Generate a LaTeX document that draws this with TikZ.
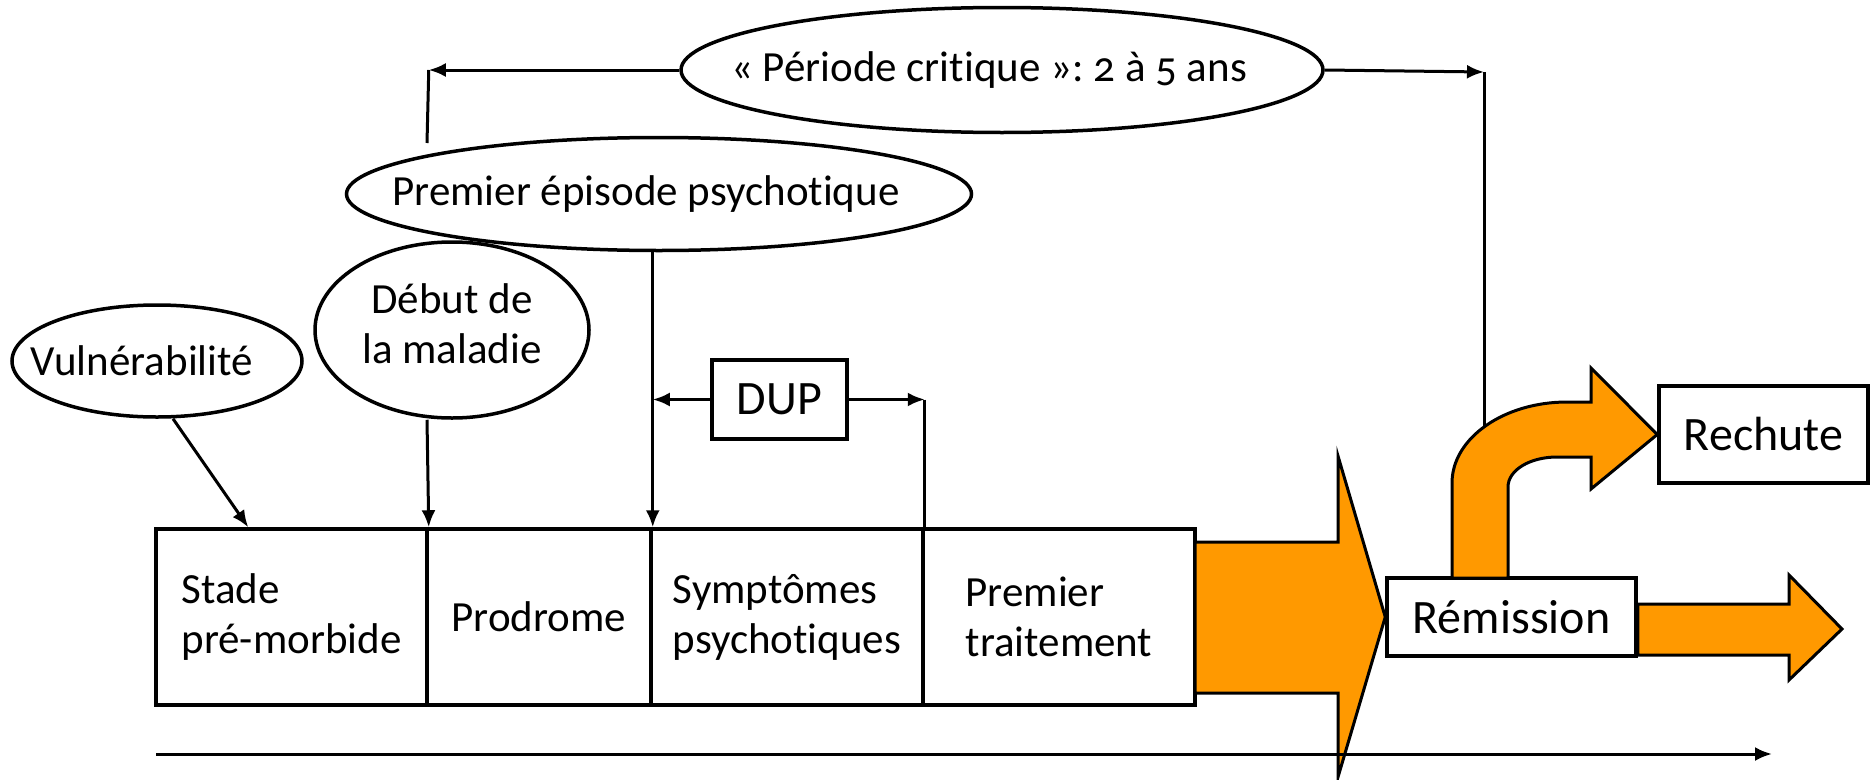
\documentclass[tikz,border=0pt]{standalone}
\usepackage{fontspec}
\setmainfont{Carlito}[Ligatures=NoCommon]
\usetikzlibrary{shapes.geometric,arrows.meta}
\frenchspacing

\definecolor{orangeflux}{RGB}{255,153,0}

% texte sans largeur, decale de #1 dans sa bulle
\newcommand{\txtdecal}[2]{\makebox[0pt]{\kern#1#2}}

\begin{document}
\begin{tikzpicture}[x=1pt, y=-1pt,
  bulle/.style={ellipse, draw, line width=3.5pt, inner sep=0pt, font=\fontsize{43}{50}\selectfont},
  etape/.style={rectangle, draw, line width=3.5pt, minimum height=176pt, inner sep=0pt, align=left, font=\fontsize{43}{50}\selectfont},
  cadre/.style={rectangle, draw, line width=3.5pt, inner sep=0pt, font=\fontsize{48}{56}\selectfont},
  fleche/.style={line width=3pt, -{Latex[length=17pt, width=14pt]}},
  lien/.style={line width=3pt},
  flux/.style={draw, fill=orangeflux, line width=3pt, line join=miter}]

\useasboundingbox (0,0) rectangle (1870,779);

% les bulles
\node[bulle, minimum width=642pt, minimum height=125pt] (crit) at (1002,70)
  {\txtdecal{-26pt}{\addfontfeature{Numbers=OldStyle}« Période critique »: 2 à 5 ans}};
\node[bulle, minimum width=625pt, minimum height=113pt] (pep) at (659,194)
  {\txtdecal{-26pt}{Premier épisode psychotique}};
\node[bulle, minimum width=274pt, minimum height=176pt] (debut) at (452,330)
  {\txtdecal{0pt}{\raisebox{-33pt}[0pt][0pt]{\begin{tabular}[b]{@{}c@{}}Début de\\la maladie\end{tabular}}}};
\node[bulle, minimum width=290pt, minimum height=112pt] (vuln) at (157,361)
  {\txtdecal{-30pt}{Vulnérabilité}};

% les etapes
\node[etape, minimum width=271pt] (stade) at (291.5,617) {Stade\\pré-morbide};
\node[etape, minimum width=224pt] (prod) at (539,617) {Prodrome};
\node[etape, minimum width=272pt] (sympt) at (787,617) {Symptômes\\psychotiques};
\node[etape, minimum width=272pt] (trait) at (1059,617) {Premier\\traitement};

\node[cadre, minimum width=135pt, minimum height=79pt] (dup) at (779.5,399.5) {DUP};
\node[cadre, minimum width=249pt, minimum height=78pt] (remis) at (1511.5,617) {Rémission};
\node[cadre, minimum width=209pt, minimum height=97pt] (rechute) at (1763.5,434.5) {Rechute};

\coordinate (critbas) at (427,143);
\coordinate (critdroit) at (1484,72);
\coordinate (critpied) at (1484,440);
\coordinate (t0) at (156,754);
\coordinate (t1) at (1772,754);

% fleches vers les etapes
\draw[fleche] ([xshift=16pt]vuln.south) -- ([xshift=94pt]stade.north west);
\draw[fleche] ([xshift=-25pt]debut.south) -- (stade.north east);
\draw[fleche] (pep.south -| prod.north east) -- (prod.north east);

% DUP
\draw[fleche] (dup.west) -- (dup.west -| prod.east);
\draw[fleche] (dup.east) -- (dup.east -| sympt.east);
\draw[lien] (dup.east -| sympt.east) -- (sympt.north east);

% periode critique
\draw[fleche] (crit.west) -- (crit.west -| stade.east);
\draw[lien] (crit.west -| stade.east) -- (critbas);
\draw[fleche] (crit.east) -- (critdroit);
\draw[lien] (critdroit) -- (critpied);

% grosses fleches orange
\draw[flux] (1195,542) -- (1338,542) -- (1338,456) -- (remis.west) -- (1338,777)
  -- (1338,693) -- (1195,693) -- cycle;
\draw[flux] (remis.east |- 0,604) -- (1789,604) -- (1789,575) -- (1842,629)
  -- (1789,680) -- (1789,655) -- (remis.east |- 0,655) -- cycle;
\draw[flux] (1452,578) -- (1452,483) .. controls (1452,438) and (1504,402) .. (1567,402)
  -- (1591,402) -- (1591,368) -- (rechute.west) -- (1591,489) -- (1591,457)
  -- (1557,457) .. controls (1530,457) and (1508,470) .. (1508,487) -- (1508,578) -- cycle;

% axe du temps
\draw[fleche] (t0) -- (t1);

\end{tikzpicture}
\end{document}
